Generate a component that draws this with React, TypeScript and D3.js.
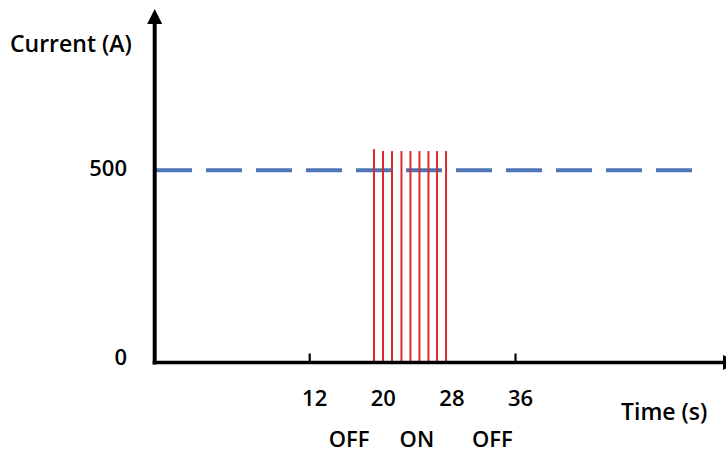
import React from "react";
import * as d3 from "d3";

const W = 726;
const H = 454;

// data
const pulseTimes = [19.5, 20.55, 21.6, 22.7, 23.75, 24.8, 25.85, 26.85, 27.9];
const pulseValues = [555, 550, 550, 550, 550, 550, 550, 550, 550];
const setpoint = 500;
const xTickLabels = [12, 20, 28, 36];
const xTickMarks = [12, 36];
const yTickLabels = [0, 500];
const phaseLabels = ["OFF", "ON", "OFF"];
const phaseTimes = [16.6, 24.5, 33.3];

const FONT = "'Open Sans', 'DejaVu Sans', sans-serif";

export default function App() {
  const x = d3.scaleLinear().domain([12, 36]).range([309.7, 515.5]);
  const y = d3.scaleLinear().domain([0, 500]).range([362.5, 170.3]);
  const axisX = 154.7;
  const y0 = y(0);

  return (
    <svg
      width={W}
      height={H}
      viewBox={`0 0 ${W} ${H}`}
      style={{ position: "absolute", left: 0, top: 0, background: "#fff" }}
    >
      <rect x={0} y={0} width={W} height={H} fill="#fff" />
      {/* setpoint dashed line */}
      <line
        x1={156}
        x2={693.5}
        y1={y(setpoint)}
        y2={y(setpoint)}
        stroke="#4f75b5"
        strokeWidth={4}
        strokeDasharray="36 14"
      />
      {/* pulses */}
      {pulseTimes.map((t, i) => (
        <line
          key={i}
          x1={x(t)}
          x2={x(t)}
          y1={y0}
          y2={y(pulseValues[i])}
          stroke="#dc2a2a"
          strokeWidth={2}
        />
      ))}
      {/* y axis */}
      <line x1={axisX} x2={axisX} y1={y0 + 2} y2={22} stroke="#000" strokeWidth={4} />
      <polygon points={`${axisX - 7.5},24 ${axisX + 7.5},24 ${axisX},9`} fill="#000" />
      {/* x axis */}
      <line x1={axisX - 2} x2={724} y1={y0} y2={y0} stroke="#000" strokeWidth={3.6} />
      <polygon points={`723,${y0 - 7.5} 723,${y0 + 7.5} 738,${y0}`} fill="#000" />
      {/* tick marks */}
      {xTickMarks.map((t) => (
        <line key={t} x1={x(t)} x2={x(t)} y1={y0} y2={y0 - 9} stroke="#000" strokeWidth={2.2} />
      ))}
      {/* tick labels */}
      {xTickLabels.map((t) => (
        <text
          key={t}
          x={x(t) + 5}
          y={406}
          textAnchor="middle"
          fontFamily={FONT}
          fontWeight={600}
          fontSize={22}
          fill="#000"
        >
          {t}
        </text>
      ))}
      {yTickLabels.map((v) => (
        <text
          key={v}
          x={127}
          y={y(v) + (v === 0 ? 2.5 : 6)}
          textAnchor="end"
          fontFamily={FONT}
          fontWeight={600}
          fontSize={22}
          fill="#000"
        >
          {v}
        </text>
      ))}
      {phaseLabels.map((l, i) => (
        <text
          key={i}
          x={x(phaseTimes[i])}
          y={447}
          textAnchor="middle"
          fontFamily={FONT}
          fontWeight={600}
          fontSize={22}
          fill="#000"
        >
          {l}
        </text>
      ))}
      <text x={10} y={52} fontFamily={FONT} fontWeight={600} fontSize={23} fill="#000">
        Current (A)
      </text>
      <text x={621} y={420} fontFamily={FONT} fontWeight={600} fontSize={23} fill="#000">
        Time (s)
      </text>
    </svg>
  );
}
